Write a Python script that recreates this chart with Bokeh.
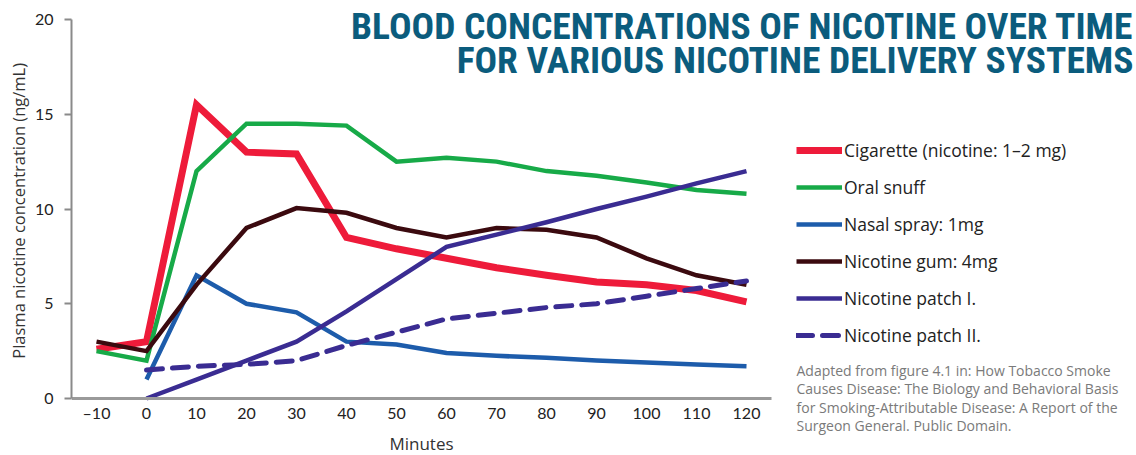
from bokeh.plotting import figure
from bokeh.models import Label, Legend, LegendItem, FixedTicker, Range1d
from bokeh.embed import file_html
from bokeh.resources import INLINE

nan = float("nan")

minutes = [-10, 0, 10, 20, 30, 40, 50, 60, 70, 80, 90, 100, 110, 120]
x_tick_labels = ["–10", "0", "10", "20", "30", "40", "50", "60", "70", "80", "90", "100", "110", "120"]
y_ticks = [0, 5, 10, 15, 20]

cigarette = [2.6, 3.0, 15.5, 13.0, 12.9, 8.5, 7.9, 7.4, 6.9, 6.5, 6.15, 6.0, 5.7, 5.1]
oral_snuff = [2.5, 2.0, 12.0, 14.5, 14.5, 14.4, 12.5, 12.7, 12.5, 12.0, 11.75, 11.4, 11.0, 10.8]
nasal_spray = [nan, 1.0, 6.5, 5.0, 4.55, 3.0, 2.85, 2.4, 2.25, 2.15, 2.0, 1.9, 1.8, 1.7]
nicotine_gum = [3.0, 2.5, 6.0, 9.0, 10.05, 9.8, 9.0, 8.5, 9.0, 8.9, 8.5, 7.4, 6.5, 6.0]
patch_1 = [nan, 0.0, 1.0, 2.0, 3.0, 4.6, 6.3, 8.0, 8.65, 9.3, 10.0, 10.65, 11.35, 12.0]
patch_2 = [nan, 1.5, 1.7, 1.8, 2.0, 2.8, 3.5, 4.2, 4.5, 4.8, 5.0, 5.4, 5.8, 6.2]

series_names = [
    "Cigarette (nicotine: 1–2 mg)",
    "Oral snuff",
    "Nasal spray: 1mg",
    "Nicotine gum: 4mg",
    "Nicotine patch I.",
    "Nicotine patch II.",
]
series_values = [cigarette, oral_snuff, nasal_spray, nicotine_gum, patch_1, patch_2]
series_colors = ["#EE1B3A", "#17AA48", "#1D5CAB", "#3B0A0F", "#3A2C92", "#3A2C92"]
series_widths = [7, 4.5, 4.5, 4.5, 4.5, 5]
series_dash = ["solid", "solid", "solid", "solid", "solid", "16 10"]

title_lines = ["BLOOD CONCENTRATIONS OF NICOTINE OVER TIME",
               "FOR VARIOUS NICOTINE DELIVERY SYSTEMS"]
source_lines = [
    "Adapted from figure 4.1 in: How Tobacco Smoke",
    "Causes Disease: The Biology and Behavioral Basis",
    "for Smoking-Attributable Disease: A Report of the",
    "Surgeon General. Public Domain.",
]
x_title = "Minutes"
y_title = "Plasma nicotine concentration (ng/mL)"

W, H = 1136, 455
FL = 71            # frame left (px)
AX_R = 771         # right end of the x axis (px)
Y20 = 19           # pixel of y=20
Y0 = 398           # pixel of y=0
X_MIN, X_MAX = -15, 125
Y_MAX = 20

sx = (X_MAX - X_MIN) / (AX_R - FL)
sy = Y_MAX / (Y0 - Y20)
def dx(px):
    return X_MIN + (px - FL) * sx
def dy(py):
    return (Y0 - py) * sy

p = figure(width=W, height=H, output_backend="svg", toolbar_location=None,
           x_range=Range1d(X_MIN, dx(W)), y_range=Range1d(dy(H), dy(0)),
           min_border_left=FL, min_border_right=0,
           min_border_top=0, min_border_bottom=0)
p.outline_line_color = None
p.xgrid.visible = False
p.ygrid.visible = False
p.background_fill_color = "white"
p.border_fill_color = "white"

renderers = []
for vals, col, lw, dash in zip(series_values, series_colors, series_widths, series_dash):
    r = p.line(minutes, vals, line_color=col, line_width=lw, line_dash=dash,
               line_join="miter", line_cap="round" if dash != "solid" else "butt")
    renderers.append(r)

# axes
xa = p.xaxis[0]
xa.fixed_location = 0
xa.bounds = (X_MIN, X_MAX)
xa.ticker = FixedTicker(ticks=minutes)
xa.major_label_overrides = {m: l for m, l in zip(minutes, x_tick_labels)}
xa.major_tick_line_color = None
xa.major_tick_out = 0
xa.major_tick_in = 0
xa.minor_tick_line_color = None
xa.axis_line_color = "#9a9a9a"
xa.axis_line_width = 3
xa.major_label_text_font = "Lato"
xa.major_label_text_font_size = "16px"
xa.major_label_text_color = "#222222"
xa.major_label_standoff = 4

p.add_layout(Label(x=(X_MIN + X_MAX) / 2, y=dy(443), text=x_title, text_align="center",
                   text_baseline="middle", text_font="Open Sans",
                   text_font_size="17px", text_color="#333333"))

ya = p.yaxis[0]
ya.bounds = (0, Y_MAX)
ya.ticker = FixedTicker(ticks=y_ticks)
ya.minor_tick_line_color = None
ya.major_tick_in = 0
ya.major_tick_out = 7
ya.major_tick_line_color = "#8a8a8a"
ya.major_tick_line_width = 2
ya.axis_line_color = "#8a8a8a"
ya.axis_line_width = 2
ya.major_label_text_font = "Lato"
ya.major_label_text_font_size = "16px"
ya.major_label_text_color = "#222222"
ya.major_label_standoff = 11
ya.axis_label = "\u00a0" * 8 + y_title
ya.axis_label_text_font = "Open Sans"
ya.axis_label_text_font_style = "normal"
ya.axis_label_text_font_size = "16.5px"
ya.axis_label_text_color = "#333333"
ya.axis_label_standoff = 2

# legend
LEG_BOTTOM = 347
legend = Legend(items=[LegendItem(label=n, renderers=[r]) for n, r in zip(series_names, renderers)],
                location=(796 - FL, H - LEG_BOTTOM), orientation="vertical",
                glyph_width=46, glyph_height=24, label_height=24, label_standoff=2,
                spacing=13, padding=0, margin=0,
                label_text_font="Open Sans", label_text_font_size="17.5px",
                label_text_color="#222222",
                border_line_color=None, background_fill_alpha=0)
p.add_layout(legend, "center")

# title
for i, t in enumerate(title_lines):
    p.add_layout(Label(x=dx(1133), y=dy(25 + 34 * i), text=t, text_align="right",
                       text_baseline="middle", text_font="'Roboto Condensed', Roboto",
                       text_font_style="bold", text_font_size="37.5px", text_color="#0B5C7D"))

# source note
for i, t in enumerate(source_lines):
    p.add_layout(Label(x=dx(796), y=dy(370 + 18.3 * i), text=t, text_align="left",
                       text_baseline="middle", text_font="Open Sans",
                       text_font_size="14px", text_color="#7a7a7a"))

open("out.html", "w").write(file_html(p, INLINE))
